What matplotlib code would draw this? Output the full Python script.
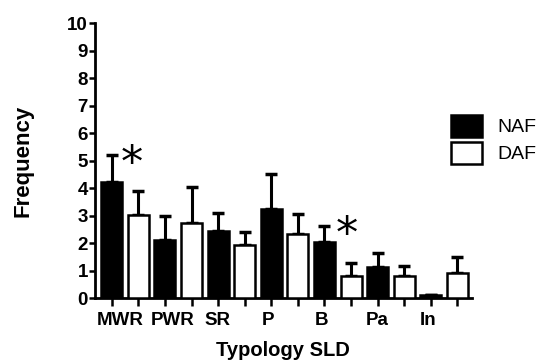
import numpy as np
import matplotlib
matplotlib.use("Agg")
import matplotlib.pyplot as plt
from matplotlib.patches import Patch

plt.rcParams['font.family'] = ['Liberation Sans', 'DejaVu Sans']

categories = ['MWR', 'PWR', 'SR', 'P', 'B', 'Pa', 'In']
naf_mean = [4.22, 2.13, 2.43, 3.23, 2.03, 1.12, 0.12]
naf_err = [0.98, 0.87, 0.67, 1.30, 0.60, 0.52, 0.0]
daf_mean = [3.02, 2.72, 1.92, 2.32, 0.82, 0.82, 0.92]
daf_err = [0.87, 1.31, 0.48, 0.75, 0.48, 0.37, 0.58]
# label centres in slot units (graph software nudged the long ones)
label_pos = [0.33, 2.27, 3.96, 5.86, 7.9, 9.97, 11.9]
# significance marks: (slot, height)
stars = [(0.76, 4.85), (8.84, 2.3)]

fig = plt.figure(figsize=(5.42, 3.61), dpi=100)
ax = fig.add_axes([0.1753, 0.1737, 0.6947, 0.7618])

n = len(categories)
x_naf = np.arange(n) * 2
x_daf = x_naf + 1
w = 0.79
lw = 1.8

ax.bar(x_naf, naf_mean, width=w, color='black', edgecolor='black', linewidth=lw, zorder=3)
ax.bar(x_daf, daf_mean, width=w, color='white', edgecolor='black', linewidth=lw, zorder=3)
ax.errorbar(x_naf, naf_mean, yerr=[np.zeros(n), naf_err], fmt='none', ecolor='black',
            elinewidth=2.2, capsize=4.5, capthick=2.5, zorder=2)
ax.errorbar(x_daf, daf_mean, yerr=[np.zeros(n), daf_err], fmt='none', ecolor='black',
            elinewidth=2.2, capsize=4.5, capthick=2.5, zorder=2)

ax.set_xlim(-0.63, 13.53)
ax.set_ylim(0, 10)
ax.set_yticks(range(0, 11))
ax.set_xticks(np.arange(2 * n))
ax.set_xticklabels([])
for lab, p in zip(categories, label_pos):
    ax.text(p, -0.8, lab, ha='center', va='center', fontsize=13.5, fontweight='bold')

for sx, sy in stars:
    ax.text(sx, sy, '*', ha='center', va='center', fontsize=32, fontfamily='DejaVu Sans')

for s in ['top', 'right']:
    ax.spines[s].set_visible(False)
for s in ['left', 'bottom']:
    ax.spines[s].set_linewidth(2.0)
ax.tick_params(axis='y', direction='out', length=4, width=1.8, labelsize=13.5, pad=1)
ax.tick_params(axis='x', direction='out', length=6, width=1.8)
for t in ax.get_yticklabels():
    t.set_fontweight('bold')

ax.set_ylabel('Frequency', fontsize=16, fontweight='bold', labelpad=24)
ax.set_xlabel('Typology SLD', fontsize=14.5, fontweight='bold', labelpad=21)

handles = [Patch(facecolor='black', edgecolor='black', linewidth=lw, label='NAF'),
           Patch(facecolor='white', edgecolor='black', linewidth=lw, label='DAF')]
fig.legend(handles=handles, loc='upper left', bbox_to_anchor=(0.832, 0.682),
           frameon=False, fontsize=14, handlelength=1.6, handleheight=1.35,
           labelspacing=0.26, handletextpad=0.8, borderpad=0, borderaxespad=0)

fig.savefig('out.png', dpi=100)
